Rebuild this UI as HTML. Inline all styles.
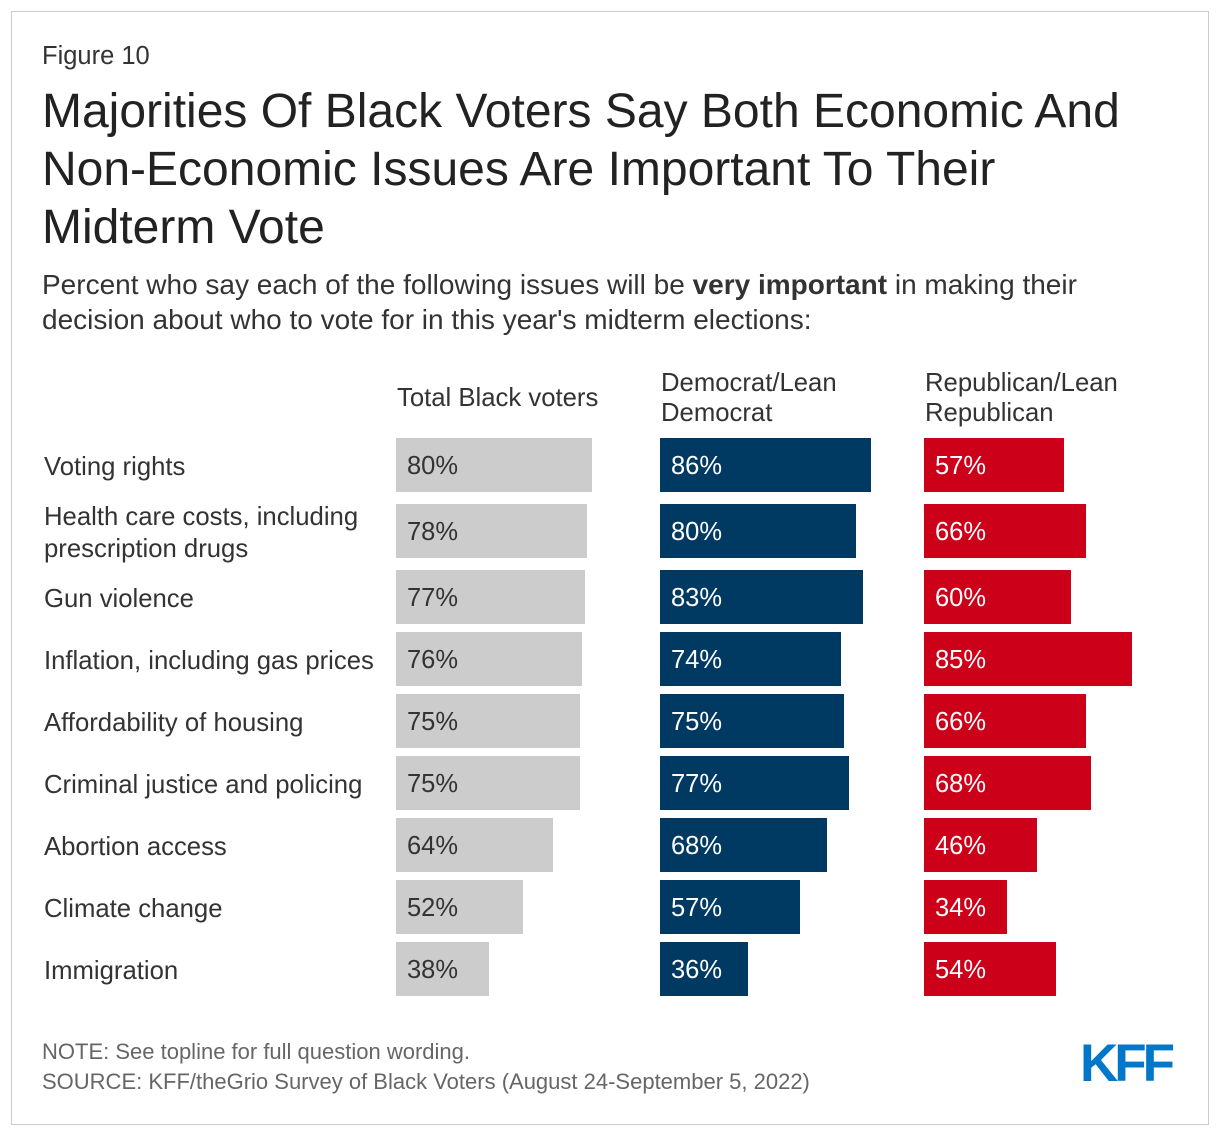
<!DOCTYPE html>
<html><head><meta charset="utf-8"><style>
body{margin:0;width:1220px;height:1138px;background:#fff;font-family:"Liberation Sans",sans-serif;position:relative;overflow:hidden}
.frame{position:absolute;left:11px;top:11px;width:1198px;height:1114px;border:1px solid #ccc;box-sizing:border-box}
.t{position:absolute;color:#333;white-space:nowrap}
</style></head><body>
<div class="frame"></div>
<div class="t" style="left:42px;top:42px;font-size:25.5px">Figure 10</div>
<div class="t" style="left:42px;top:83px;font-size:48px;line-height:58px;color:#222">Majorities Of Black Voters Say Both Economic And<br>Non-Economic Issues Are Important To Their<br>Midterm Vote</div>
<div class="t" style="left:42px;top:267px;font-size:28px;line-height:35px">Percent who say each of the following issues will be <b>very important</b> in making their<br>decision about who to vote for in this year's midterm elections:</div>
<div class="t" style="left:397px;top:384px;font-size:25.7px">Total Black voters</div>
<div class="t" style="left:661px;top:368px;font-size:25.7px;line-height:30px">Democrat/Lean<br>Democrat</div>
<div class="t" style="left:925px;top:368px;font-size:25.7px;line-height:30px">Republican/Lean<br>Republican</div>
<div id="chart"></div>
<div class="t" style="left:42px;top:1039px;font-size:22px;color:#666">NOTE: See topline for full question wording.</div>
<div class="t" style="left:42px;top:1069px;font-size:22px;color:#666">SOURCE: KFF/theGrio Survey of Black Voters (August 24-September 5, 2022)</div>
<div class="t" style="left:1080px;top:1033px;font-size:53px;font-weight:bold;color:#0077c8;letter-spacing:-4px">KFF</div>
<script>
const categories=["Voting rights","Health care costs, including<br>prescription drugs","Gun violence","Inflation, including gas prices","Affordability of housing","Criminal justice and policing","Abortion access","Climate change","Immigration"];
const totalValues=[80,78,77,76,75,75,64,52,38];
const demValues=[86,80,83,74,75,77,68,57,36];
const repValues=[57,66,60,85,66,68,46,34,54];
const series=[{v:totalValues,x:396,c:"#cccccc",tc:"#333",n:"total"},{v:demValues,x:660,c:"#003a63",tc:"#fff",n:"dem"},{v:repValues,x:924,c:"#cc0019",tc:"#fff",n:"rep"}];
const rowTops=[438,504,570,632,694,756,818,880,942];
const xs=v=>v*2.45;
const root=document.getElementById('chart');
categories.forEach((cat,i)=>{
  const y=rowTops[i];
  const l=document.createElement('div');
  l.className='t';
  
  
  l.style.cssText=`left:44px;top:${y+29}px;transform:translateY(-50%);font-size:25.7px;line-height:32px`;
  l.innerHTML=cat;
  root.appendChild(l);
  series.forEach(s=>{
    const b=document.createElement('div');
    
    
    b.style.cssText=`position:absolute;left:${s.x}px;top:${y}px;width:${xs(s.v[i])}px;height:54px;background:${s.c};color:${s.tc};font-size:25.5px;line-height:56px;box-sizing:border-box;padding-left:11px;white-space:nowrap`;
    b.textContent=s.v[i]+'%';
    root.appendChild(b);
  });
});
</script>
</body></html>
